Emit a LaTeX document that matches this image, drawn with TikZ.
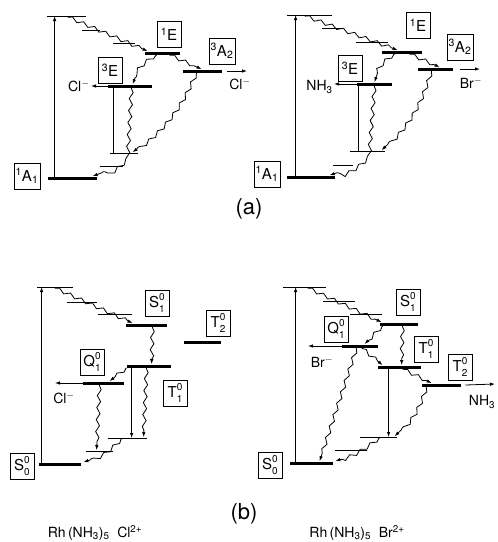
\documentclass[tikz,border=0pt]{standalone}
\usepackage{fontspec}
\setmainfont{TeX Gyre Heros}
\usetikzlibrary{arrows.meta,decorations.pathmorphing,positioning}
\newcommand{\supsub}[2]{\rlap{\raisebox{0.5em}{\fontsize{10}{10}\selectfont #1}}\raisebox{-0.35em}{\fontsize{10}{10}\selectfont #2}}

\begin{document}
\begin{tikzpicture}[x=1pt,y=1pt,line width=0.8pt,>={Latex[length=5pt,width=3.5pt]},
  lvl/.style={fill,inner sep=0pt,minimum height=3pt},
  sublvl/.style={fill,inner sep=0pt,minimum height=0.8pt},
  term/.style={draw,line width=0.6pt,inner sep=1.5pt,minimum width=24pt,minimum height=26pt,font=\fontsize{15}{15}\selectfont},
  ion/.style={font=\fontsize{14}{14}\selectfont,inner sep=1pt},
  wavy/.style={->,decorate,decoration={snake,amplitude=1.8pt,segment length=12pt,pre length=1pt,post length=4pt}}]
  \useasboundingbox (0,0) rectangle (498,-542);

  % levels
  \foreach \n/\x/\y/\w in {aE/162.5/53/35,aA/202.5/71/39,aTE/130/86/44,aG/72.5/178/49,
      bE/402/52/40,bA/435.5/69/35,bTE/374.5/84/35,bG/311/177/48,
      cS/146.5/325/41,cTb/202.5/342/37,cTa/149/366/44,cQ/103.5/383/41,cG/60/464/42,
      dS/399/324/38,dQ/360/346/36,dTa/399.5/367/43,dTb/441.5/385/39,dG/311.5/463/43}
    \node[lvl,minimum width=\w pt] (\n) at (\x,-\y) {};
  \foreach \n/\x/\y/\w in {aT/66.5/16/39,aV1/91/30/18,aV2/124/43/22,aL1/124/153/28,aL2/111.5/166/23,
      bT/309.5/15/45,bV1/332/28/20,bV2/372/42/32,bL1/367.5/151/35,bL2/343/165/20,
      cT/55/287/36,cV1/82/302/30,cV2/115/314/34,cL1/127.5/438/39,cL2/99.5/451/27,
      dT/304.5/287/43,dV1/339/301/32,dV2/366/314/32,dL1/378.5/437/37,dL2/351/450/32}
    \node[sublvl,minimum width=\w pt] (\n) at (\x,-\y) {};

  % term symbols
  \foreach \n/\x/\y/\t in {aEl/169/34/{\textsuperscript{1}E},aAl/222/51/{\textsuperscript{3}A\textsubscript{2}},
      aTEl/110/70/{\textsuperscript{3}E},aGl/27/176/{\textsuperscript{1}A\textsubscript{1}},
      bEl/418/25/{\textsuperscript{1}E},bAl/460/47/{\textsuperscript{3}A\textsubscript{2}},
      bTEl/350/68/{\textsuperscript{3}E},bGl/267/174/{\textsuperscript{1}A\textsubscript{1}},
      cSl/157/303/{S\supsub{0}{1}},cTbl/218/323/{T\supsub{0}{2}},cTal/175/393/{T\supsub{0}{1}},
      cQl/92/362/{Q\supsub{0}{1}},cGl/22/466/{S\supsub{0}{0}},
      dSl/408/302/{S\supsub{0}{1}},dQl/336/329/{Q\supsub{0}{1}},dTal/426/349/{T\supsub{0}{1}},
      dTbl/460/367/{T\supsub{0}{2}},dGl/270/465/{S\supsub{0}{0}}}
    \node[term] (\n) at (\x,-\y) {\t};

  % (a) left
  \draw[->] ([xshift=7pt]aG.west) -- ([xshift=7pt]aG.west |- aT.center);
  \draw ([xshift=6pt]aTE.west) -- ([xshift=6pt]aTE.west |- aL1.center);
  \draw[wavy] ([xshift=21pt]aT.south west) -- ([xshift=3pt]aE.north west);
  \draw[wavy] ([xshift=25pt]aE.south west) -- ([xshift=19pt]aA.north west);
  \draw[wavy] ([xshift=12pt]aE.south west) to[bend right=20] ([xshift=25pt]aTE.north west);
  \draw[wavy] ([xshift=14pt]aA.south west) to[bend left=15] ([xshift=23pt]aL1.north west);
  \draw[wavy] ([xshift=24pt]aTE.south west) -- ([xshift=4pt]aL1.center) to[bend left=15] ([xshift=45pt]aG.north west);
  \node[ion,anchor=east] (aCl1) at (91,-86) {Cl\textsuperscript{$-$}};
  \draw[->] (aTE.west) -- (aCl1.east);
  \coordinate (aClr) at (247,-71);
  \node[ion] (aCl2) at (240,-84) {Cl\textsuperscript{$-$}};
  \draw[->] ([xshift=5pt]aA.east) -- (aClr);

  % (a) right
  \draw[->] ([xshift=9pt]bG.west) -- ([xshift=9pt]bG.west |- bT.center);
  \draw ([xshift=2pt]bTE.west) -- ([xshift=2pt]bTE.west |- bL1.center);
  \draw[wavy] ([xshift=18pt]bT.south west) -- ([xshift=16pt]bE.north west);
  \draw[wavy] ([xshift=28pt]bE.south west) -- ([xshift=22pt]bA.north west);
  \draw[wavy] ([xshift=13pt]bE.south west) to[bend right=20] ([xshift=18pt]bTE.north west);
  \draw[wavy] ([xshift=14pt]bA.south west) to[bend left=15] ([xshift=32pt]bL1.north west);
  \draw[wavy] ([xshift=18pt]bTE.south west) -- ([xshift=20pt]bL1.west) to[bend left=15] ([xshift=43pt]bG.north west);
  \node[ion,anchor=east] (bNH) at (334,-87) {NH\textsubscript{3}};
  \draw[->] (bTE.west) -- (bNH.east |- bTE.west);
  \coordinate (bBrr) at (480,-69);
  \node[ion] (bBr) at (471,-83) {Br\textsuperscript{$-$}};
  \draw[->] ([xshift=7pt]bA.east) -- (bBrr);

  \node[font=\fontsize{22}{22}\selectfont] (capa) at (249,-209) {(a)};

  % (b) left
  \draw[->] ([xshift=3pt]cG.west) -- ([xshift=3pt]cG.west |- cT.center);
  \draw[->] ([xshift=5pt]cTa.west) -- ([xshift=5pt]cTa.west |- cL1.center);
  \draw[wavy] ([xshift=18pt]cT.south west) -- ([xshift=7pt]cS.north west);
  \draw[wavy] ([xshift=27pt]cS.south west) -- ([xshift=25pt]cTa.north west);
  \draw[wavy] (cTa.south west) -- ([xshift=27pt]cQ.north west);
  \draw[wavy] ([xshift=20pt]cTa.south west) -- ([xshift=36pt]cL1.north west);
  \draw[wavy] ([xshift=17pt]cQ.south west) -- ([xshift=11pt]cL2.north west);
  \draw[wavy] ([xshift=14pt]cL1.south west) to[bend left=15] ([xshift=2pt]cG.north east);
  \coordinate (cCle) at (55,-383);
  \node[ion] (cCl) at (64,-398) {Cl\textsuperscript{$-$}};
  \draw[->] (cQ.west) -- (cCle);

  % (b) right
  \draw[->] ([xshift=6pt]dG.west) -- ([xshift=6pt]dG.west |- dT.center);
  \draw[->] ([xshift=11pt]dTa.west) -- ([xshift=11pt]dTa.west |- dL1.center);
  \draw[wavy] ([xshift=25pt]dT.south west) -- ([xshift=2pt]dS.north west);
  \draw[wavy] ([xshift=3pt]dS.south west) -- ([xshift=23pt]dQ.north west);
  \draw[wavy] ([xshift=23pt]dS.south west) -- ([xshift=24pt]dTa.north west);
  \draw[wavy] ([xshift=20pt]dQ.south west) -- ([xshift=5pt]dTa.north west);
  \draw[wavy] ([xshift=25pt]dTa.south west) -- ([xshift=10pt]dTb.north west);
  \draw[wavy] ([xshift=15pt]dQ.south west) -- ([xshift=30pt]dG.north west);
  \draw[wavy] ([xshift=5pt]dTb.south west) to[bend left=15] ([xshift=35pt]dL1.north west);
  \draw[wavy] ([xshift=20pt]dL1.south west) to[bend left=10] ([xshift=2pt]dG.north east);
  \coordinate (dBre) at (308,-346);
  \node[ion] (dBr) at (322,-362) {Br\textsuperscript{$-$}};
  \draw[->] (dQ.west) -- (dBre);
  \coordinate (dNHe) at (495,-384);
  \node[ion] (dNH) at (482,-402) {NH\textsubscript{3}};
  \draw[->] ([xshift=4pt]dTb.east) -- (dNHe);

  \node[font=\fontsize{22}{22}\selectfont] (capb) at (244,-514) {(b)};
  \node[font=\fontsize{14}{14}\selectfont] (cmpa) at (95,-533) {Rh\,(NH\textsubscript{3})\textsubscript{5}\ \ Cl\textsuperscript{2+}};
  \node[font=\fontsize{14}{14}\selectfont] (cmpb) at (357,-533) {Rh\,(NH\textsubscript{3})\textsubscript{5}\ \ Br\textsuperscript{2+}};
\end{tikzpicture}
\end{document}
